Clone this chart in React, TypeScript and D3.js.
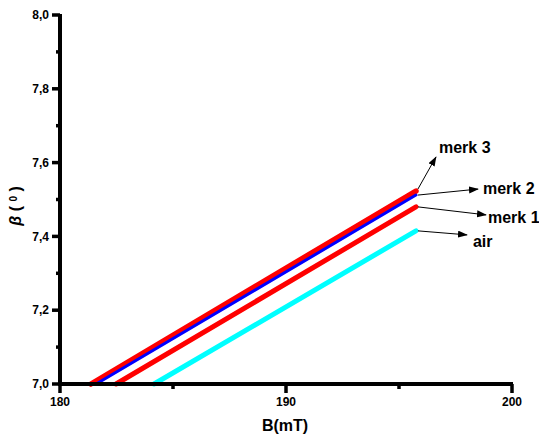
import React from "react";
import * as d3 from "d3";

// field B (mT) where each line starts at beta = 7.0, and where it ends
const seriesNames = ["air", "merk 1", "merk 3", "merk 2"];
const bStart = [184.16, 182.48, 181.37, 181.6];
const bEnd = [195.75, 195.75, 195.75, 195.75];
const betaStart = [7.0, 7.0, 7.0, 7.0];
const betaEnd = [7.415, 7.48, 7.523, 7.512];

const xTicks = [180, 190, 200];
const xMinor = [185, 195];
const yTicks = [7.0, 7.2, 7.4, 7.6, 7.8, 8.0];
const yMinor = [7.1, 7.3, 7.5, 7.7, 7.9];

const colors = ["#00ffff", "#ff0000", "#ff0000", "#0000ff"];
const widths = [5, 5, 5.5, 3];
// arrow tip offset from line end, and label offset from tip
const notes = [
  { d: [51, 4], l: [6, 12] },
  { d: [70, 8], l: [2, 8] },
  { d: [20, -34], l: [3, -4] },
  { d: [62, -6], l: [5, 5] },
];

const W = 539;
const H = 438;
const font = "Arial, 'Liberation Sans', sans-serif";

export default function App() {
  const x = d3.scaleLinear().domain([180, 200]).range([60, 512]);
  const y = d3.scaleLinear().domain([7, 8]).range([384, 15]);
  const fmt = (v: number) => d3.format(".1f")(v).replace(".", ",");
  const line = d3
    .line<[number, number]>()
    .x((d) => x(d[0]))
    .y((d) => y(d[1]));

  return (
    <svg
      width={W}
      height={H}
      style={{ position: "absolute", left: 0, top: 0, background: "#fff" }}
    >
      <defs>
        <marker
          id="arr"
          markerUnits="userSpaceOnUse"
          markerWidth={10}
          markerHeight={8}
          refX={9}
          refY={3.5}
          orient="auto"
        >
          <path d="M0,0 L10,3.5 L0,7 Z" fill="#000" />
        </marker>
      </defs>

      {seriesNames.map((n, i) => (
        <path
          key={n}
          d={line([
            [bStart[i], betaStart[i]],
            [bEnd[i], betaEnd[i]],
          ])!}
          stroke={colors[i]}
          strokeWidth={widths[i]}
          strokeLinecap="round"
          fill="none"
        />
      ))}

      {/* axes */}
      <line x1={x(180)} x2={x(180)} y1={y(8) - 1} y2={y(7) + 2} stroke="#000" strokeWidth={4} />
      <line x1={x(180) - 2} x2={x(200) + 1} y1={y(7)} y2={y(7)} stroke="#000" strokeWidth={4} />

      {yTicks.map((t) => (
        <g key={t}>
          <line x1={x(180) - 8} x2={x(180)} y1={y(t)} y2={y(t)} stroke="#000" strokeWidth={3.5} />
          <text
            x={x(180) - 11}
            y={y(t)}
            dy="0.35em"
            textAnchor="end"
            fontFamily={font}
            fontWeight="bold"
            fontSize={12}
          >
            {fmt(t)}
          </text>
        </g>
      ))}
      {yMinor.map((t) => (
        <line key={t} x1={x(180) - 4} x2={x(180)} y1={y(t)} y2={y(t)} stroke="#000" strokeWidth={3.5} />
      ))}
      {xTicks.map((t) => (
        <g key={t}>
          <line x1={x(t)} x2={x(t)} y1={y(7)} y2={y(7) + 9} stroke="#000" strokeWidth={3.5} />
          <text
            x={x(t)}
            y={406}
            textAnchor="middle"
            fontFamily={font}
            fontWeight="bold"
            fontSize={12}
          >
            {t}
          </text>
        </g>
      ))}
      {xMinor.map((t) => (
        <line key={t} x1={x(t)} x2={x(t)} y1={y(7)} y2={y(7) + 5} stroke="#000" strokeWidth={3.5} />
      ))}

      {/* axis titles */}
      <text x={285} y={431} textAnchor="middle" fontFamily={font} fontWeight="bold" fontSize={16}>
        B(mT)
      </text>
      <text
        transform="translate(21,206) rotate(-90)"
        textAnchor="middle"
        fontFamily={font}
        fontWeight="bold"
        fontSize={16}
      >
        <tspan fontStyle="italic">β</tspan>
        <tspan> ( </tspan>
        <tspan fontSize={10} dy={-4}>0</tspan>
        <tspan dy={4}> )</tspan>
      </text>

      {/* annotations */}
      {seriesNames.map((n, i) => {
        const ex = x(bEnd[i]);
        const ey = y(betaEnd[i]);
        const tx = ex + notes[i].d[0];
        const ty = ey + notes[i].d[1];
        return (
          <g key={n}>
            <line
              x1={ex + 2}
              y1={ey - (i === 2 ? 2 : 0)}
              x2={tx}
              y2={ty}
              stroke="#000"
              strokeWidth={1}
              markerEnd="url(#arr)"
            />
            <text
              x={tx + notes[i].l[0]}
              y={ty + notes[i].l[1]}
              fontFamily={font}
              fontWeight="bold"
              fontSize={16}
            >
              {n}
            </text>
          </g>
        );
      })}
    </svg>
  );
}
